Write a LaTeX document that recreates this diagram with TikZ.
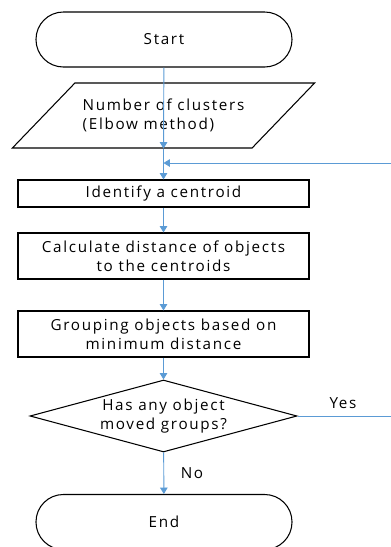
\documentclass[tikz,border=0pt]{standalone}
\usepackage{fontspec}
\setmainfont{Open Sans}[LetterSpace=11]
\usepackage{xcolor}
\usetikzlibrary{shapes.geometric,arrows.meta}
\definecolor{flowblue}{RGB}{91,155,213}

\begin{document}
\begin{tikzpicture}[x=0.03cm,y=-0.03cm,
    font=\fontsize{13}{16.4}\selectfont,
    terminal/.style={draw, line width=0.9pt, rectangle, rounded corners=0.82cm, minimum width=7.68cm, minimum height=1.65cm},
    inputbox/.style={draw, line width=0.9pt, trapezium, trapezium left angle=34.5, trapezium right angle=145.5, trapezium stretches=true, minimum width=9.09cm, minimum height=1.95cm, align=left},
    process/.style={draw, line width=0.9pt, rectangle, minimum width=8.73cm, align=center},
    decision/.style={draw, line width=0.9pt, diamond, shape aspect=3.7, inner sep=0pt, minimum width=8.01cm, minimum height=2.16cm, align=center},
    flow/.style={draw=flowblue, line width=0.8pt, -{Triangle[width=6.5pt,length=5.5pt]}},
    plain/.style={draw=flowblue, line width=0.8pt}]
    \useasboundingbox (0,0) rectangle (391,547);

    % Start and input
    \node[terminal] (start) at (164,39.5) {Start};
    \node[inputbox] (clusters) at (163.5,115.5) {Number of clusters\\(Elbow method)};

    % Processing steps
    \node[process, minimum height=0.81cm] (centroid) at (163.5,193.5) {Identify a centroid};
    \node[process, minimum height=1.38cm] (distance) at (163.5,256) {Calculate distance of objects\\to the centroids};
    \node[process, minimum height=1.38cm] (grouping) at (163.5,334) {Grouping objects based on\\minimum distance};

    % Decision and end
    \node[decision] (moved) at (163.5,416) {Has any object\\moved groups?};
    \node[terminal] (finish) at (164,522) {End};

    % Loop back points
    \coordinate (merge) at (163.5,163);
    \coordinate (loopin) at (391,163);
    \coordinate (yesend) at (391,416);

    % Connectors
    \draw[flow] (start) -- (clusters.center |- clusters.south);
    \draw[flow] (clusters.center |- clusters.south) -- (centroid);
    \draw[flow] (loopin) -- (merge);
    \draw[flow] (centroid) -- (distance);
    \draw[flow] (distance) -- (grouping);
    \draw[flow] (grouping) -- (moved);
    \draw[plain] (moved.east) -- (yesend);
    \node at (343,403) {Yes};
    \draw[flow] (moved) -- (finish);
    \node at (192,473) {No};
\end{tikzpicture}
\end{document}
